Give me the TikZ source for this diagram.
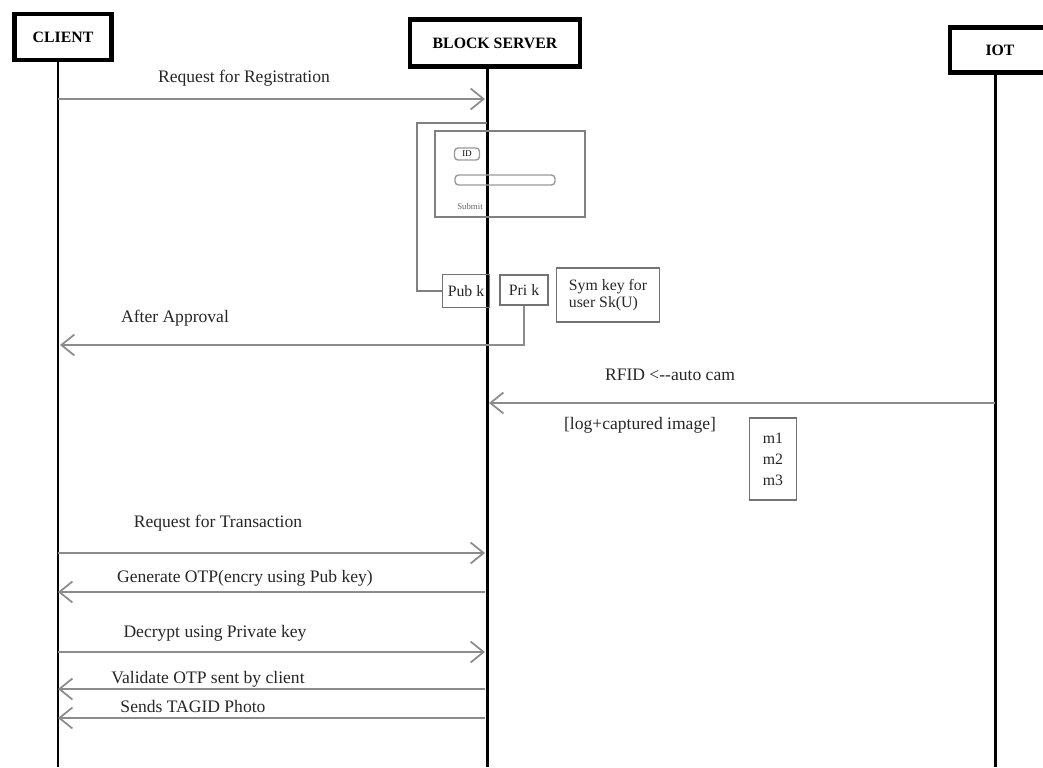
\documentclass[tikz,border=0pt]{standalone}
\usepackage{fontspec}
\setmainfont{Liberation Serif}
\usetikzlibrary{arrows.meta,positioning}

\begin{document}
\begin{tikzpicture}[x=0.02cm,y=-0.02cm,
  actor/.style={draw,line width=2.4pt,inner sep=0pt,font=\fontsize{9}{10}\selectfont\bfseries},
  life/.style={line width=1.7pt},
  msg/.style={draw=black!45,line width=1pt,-{Straight Barb[length=2.6mm,width=4.2mm]}},
  lbl/.style={font=\fontsize{10}{12}\selectfont,text=black!85},
  keybox/.style={draw=black!55,line width=0.8pt,inner sep=1pt,font=\fontsize{9}{10}\selectfont,text=black!85},
  field/.style={draw=black!40,rounded corners=2pt,line width=0.8pt,inner sep=0pt}]

\useasboundingbox (0,0) rectangle (1043,767);

%actors:
\node[actor,minimum width=1.94cm,minimum height=0.92cm] (client) at (63,37) {CLIENT};
\node[actor,minimum width=3.4cm,minimum height=0.94cm] (server) at (495,43) {BLOCK SERVER};
\node[actor,minimum width=2.0cm,minimum height=0.9cm] (iot) at (1000,50) {IOT};

%lifelines:
\coordinate (cEnd) at (58,767);
\coordinate (sEnd) at (487,767);
\coordinate (iEnd) at (995,767);
\draw[life] (client.south -| cEnd) -- (cEnd);
\draw[life] (server.south -| sEnd) -- (sEnd);
\draw[life] (iot.south -| iEnd) -- (iEnd);

%registration
\coordinate (c1) at (58,99);
\coordinate (s1) at (485,99);
\draw[msg] (c1) -- (s1);
\node[lbl] (reg) at (244,78) {Request for Registration};

\node[draw=black!50,line width=0.8pt,minimum width=3cm,minimum height=1.72cm] (form) at (510,174) {};
\node[field,minimum width=0.5cm,minimum height=0.24cm,font=\fontsize{5}{6}\selectfont] (fid) at (467,154) {ID};
\node[field,minimum width=2cm,minimum height=0.2cm] (fpw) at (505,180) {};
\node[font=\fontsize{5}{6}\selectfont,text=black!60] (fok) at (470,206) {Submit};

\node[keybox,minimum width=0.94cm,minimum height=0.66cm] (pub) at (466,291) {Pub k};
\node[keybox,minimum width=0.96cm,minimum height=0.6cm] (priv) at (524,290) {Pri k};
\node[keybox,minimum width=2.06cm,minimum height=1.08cm,align=left] (sym) at (608,295) {Sym key for\\user Sk(U)};

\coordinate (b1) at (487,123);
\coordinate (b2) at (417,123);
\draw[draw=black!50,line width=0.8pt] (b1) -- (b2) |- (pub.west);

%approval
\coordinate (c2) at (60,345);
\draw[msg] (priv.south) |- (c2);
\node[lbl] (appr) at (175,318) {After Approval};

%iot
\coordinate (i1) at (995,403);
\coordinate (s2) at (489,403);
\draw[msg] (i1) -- (s2);
\node[lbl] (rfid) at (670,375) {RFID <{-}{-}auto cam};
\node[lbl] (log) at (640,425) {[log+captured image]};
\node[keybox,minimum width=0.94cm,minimum height=1.64cm,align=center] (mbox) at (773,459) {m1\\[2pt]m2\\[2pt]m3};

%transaction
\foreach \y/\dir in {553/r, 592/l, 652/r, 689/l, 718/l}{
  \coordinate (cc\y) at (58,\y);
  \coordinate (ss\y) at (485,\y);
  \if r\dir
    \draw[msg] (cc\y) -- (ss\y);
  \else
    \draw[msg] (ss\y) -- (cc\y);
  \fi
}
\node[lbl] (t1) at (218,523) {Request for Transaction};
\node[lbl] (t2) at (245,578) {Generate OTP(encry using Pub key)};
\node[lbl] (t3) at (215,633) {Decrypt using Private key};
\node[lbl] (t4) at (208,679) {Validate OTP sent by client};
\node[lbl] (t5) at (193,706) {Sends TAGID Photo};

\end{tikzpicture}
\end{document}
